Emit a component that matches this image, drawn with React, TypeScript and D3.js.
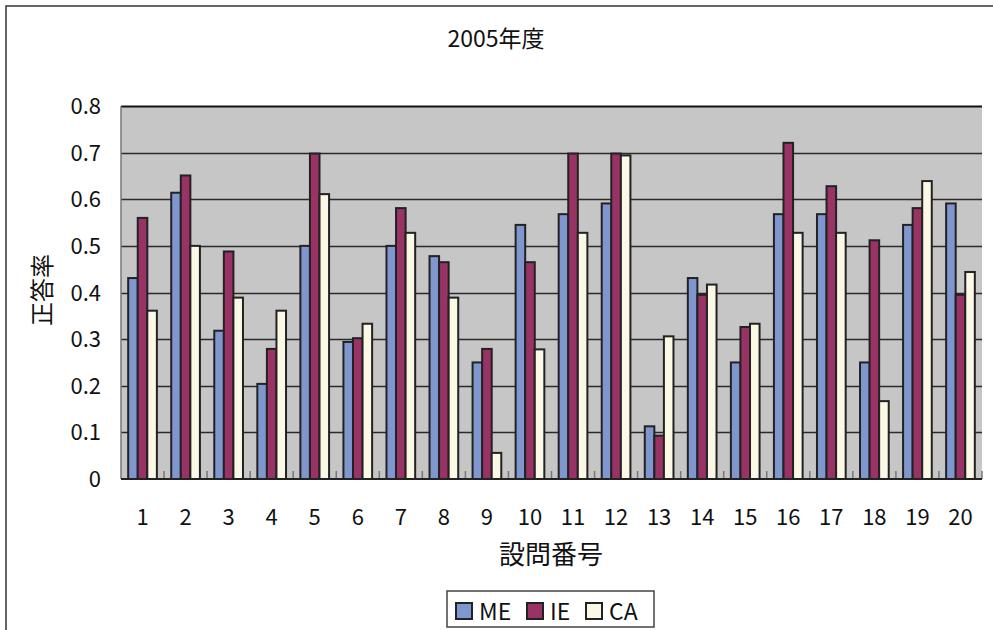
import React, { useEffect, useRef } from 'react';
import * as d3 from 'd3';

const questions = ['1', '2', '3', '4', '5', '6', '7', '8', '9', '10', '11', '12', '13', '14', '15', '16', '17', '18', '19', '20'];
const seriesNames = ['ME', 'IE', 'CA'];
const meValues = [0.431, 0.614, 0.318, 0.204, 0.5, 0.294, 0.5, 0.478, 0.25, 0.545, 0.568, 0.591, 0.113, 0.431, 0.25, 0.568, 0.568, 0.25, 0.545, 0.591];
const ieValues = [0.56, 0.651, 0.488, 0.279, 0.698, 0.302, 0.581, 0.465, 0.279, 0.465, 0.698, 0.698, 0.093, 0.395, 0.326, 0.721, 0.628, 0.512, 0.581, 0.395];
const caValues = [0.361, 0.5, 0.389, 0.361, 0.611, 0.333, 0.528, 0.389, 0.056, 0.278, 0.528, 0.694, 0.306, 0.417, 0.333, 0.528, 0.528, 0.167, 0.639, 0.444];
const yTicks = [0, 0.1, 0.2, 0.3, 0.4, 0.5, 0.6, 0.7, 0.8];
const colors = ['#7f96cf', '#993366', '#fbf8e5'];

const FONT = '"Noto Sans CJK JP", "Noto Sans", sans-serif';

const App = () => {
    const svgRef = useRef(null);

    useEffect(() => {
        const svg = d3.select(svgRef.current);
        svg.selectAll('*').remove();
        const width = 993;
        const height = 630;
        const left = 121, right = 982, top = 106, bottom = 479;

        // outer chart frame (only left and top visible)
        svg.append('rect').attr('x', 6).attr('y', 6).attr('width', width + 20).attr('height', height + 20)
            .attr('fill', '#fff').attr('stroke', '#333').attr('stroke-width', 1.5);

        svg.append('text').attr('x', 496).attr('y', 47).attr('text-anchor', 'middle')
            .attr('font-family', FONT).attr('font-size', 23).attr('fill', '#111').text('2005年度');

        const x0 = d3.scaleBand().domain(questions).range([left, right]).paddingInner(1 / 3).paddingOuter(1 / 6);
        const x1 = d3.scaleBand().domain(seriesNames).range([0, x0.bandwidth()]);
        const y = d3.scaleLinear().domain([0, 0.8]).range([bottom, top]);

        svg.append('rect').attr('x', left).attr('y', top).attr('width', right - left).attr('height', bottom - top)
            .attr('fill', '#c6c6c6');

        svg.append('g').selectAll('line').data(yTicks.slice(1)).enter().append('line')
            .attr('x1', left).attr('x2', right)
            .attr('y1', d => Math.round(y(d)) + 0.5).attr('y2', d => Math.round(y(d)) + 0.5)
            .attr('stroke', d => (d === 0.8 ? '#111' : '#2a2a2a')).attr('stroke-width', d => (d === 0.8 ? 2 : 1.4));

        // plot left edge
        svg.append('line').attr('x1', left).attr('x2', left).attr('y1', top).attr('y2', bottom)
            .attr('stroke', '#777').attr('stroke-width', 1.5);

        // category separator ticks
        const step = x0.step();
        svg.append('g').selectAll('line').data(d3.range(1, questions.length + 1)).enter().append('line')
            .attr('x1', i => left + i * step).attr('x2', i => left + i * step)
            .attr('y1', bottom - 8).attr('y2', bottom)
            .attr('stroke', '#777').attr('stroke-width', 1.5);

        const values = [meValues, ieValues, caValues];
        const groups = svg.append('g').selectAll('g').data(questions).enter().append('g')
            .attr('transform', q => `translate(${x0(q)},0)`);
        groups.selectAll('rect').data((q, i) => seriesNames.map((s, k) => ({ s, v: values[k][i], k }))).enter()
            .append('rect')
            .attr('x', d => x1(d.s))
            .attr('y', d => y(d.v))
            .attr('width', x1.bandwidth())
            .attr('height', d => bottom - y(d.v))
            .attr('fill', d => colors[d.k])
            .attr('stroke', '#222').attr('stroke-width', 2);

        // x axis line
        svg.append('line').attr('x1', left).attr('x2', right).attr('y1', bottom).attr('y2', bottom)
            .attr('stroke', '#222').attr('stroke-width', 2);

        svg.append('g').selectAll('text').data(yTicks).enter().append('text')
            .attr('x', 101).attr('y', d => y(d) + 8).attr('text-anchor', 'end')
            .attr('font-family', FONT).attr('font-size', 22).attr('fill', '#111')
            .text(d => (d === 0 ? '0' : d.toFixed(1)));

        svg.append('g').selectAll('text').data(questions).enter().append('text')
            .attr('x', q => x0(q) + x0.bandwidth() / 2).attr('y', 525).attr('text-anchor', 'middle')
            .attr('font-family', FONT).attr('font-size', 22).attr('fill', '#111')
            .text(q => q);

        svg.append('text').attr('x', 551).attr('y', 564).attr('text-anchor', 'middle')
            .attr('font-family', FONT).attr('font-size', 26).attr('fill', '#111').text('設問番号');

        svg.append('text').attr('transform', 'translate(51,290) rotate(-90)').attr('text-anchor', 'middle')
            .attr('font-family', FONT).attr('font-size', 24).attr('fill', '#111').text('正答率');

        // legend
        const legend = svg.append('g');
        legend.append('rect').attr('x', 447).attr('y', 591).attr('width', 207).attr('height', 36)
            .attr('fill', '#fff').attr('stroke', '#444').attr('stroke-width', 1.5);
        const legendX = [456, 527, 586];
        seriesNames.forEach((s, k) => {
            legend.append('rect').attr('x', legendX[k]).attr('y', 603).attr('width', 16).attr('height', 16)
                .attr('fill', colors[k]).attr('stroke', '#222').attr('stroke-width', 2);
            legend.append('text').attr('x', legendX[k] + 23).attr('y', 620)
                .attr('font-family', FONT).attr('font-size', 23).attr('fill', '#111').text(s);
        });
    }, []);

    return (
        <svg ref={svgRef} width="993" height="630" style={{ display: 'block', position: 'absolute', left: 0, top: 0 }}></svg>
    );
};

export default App;
